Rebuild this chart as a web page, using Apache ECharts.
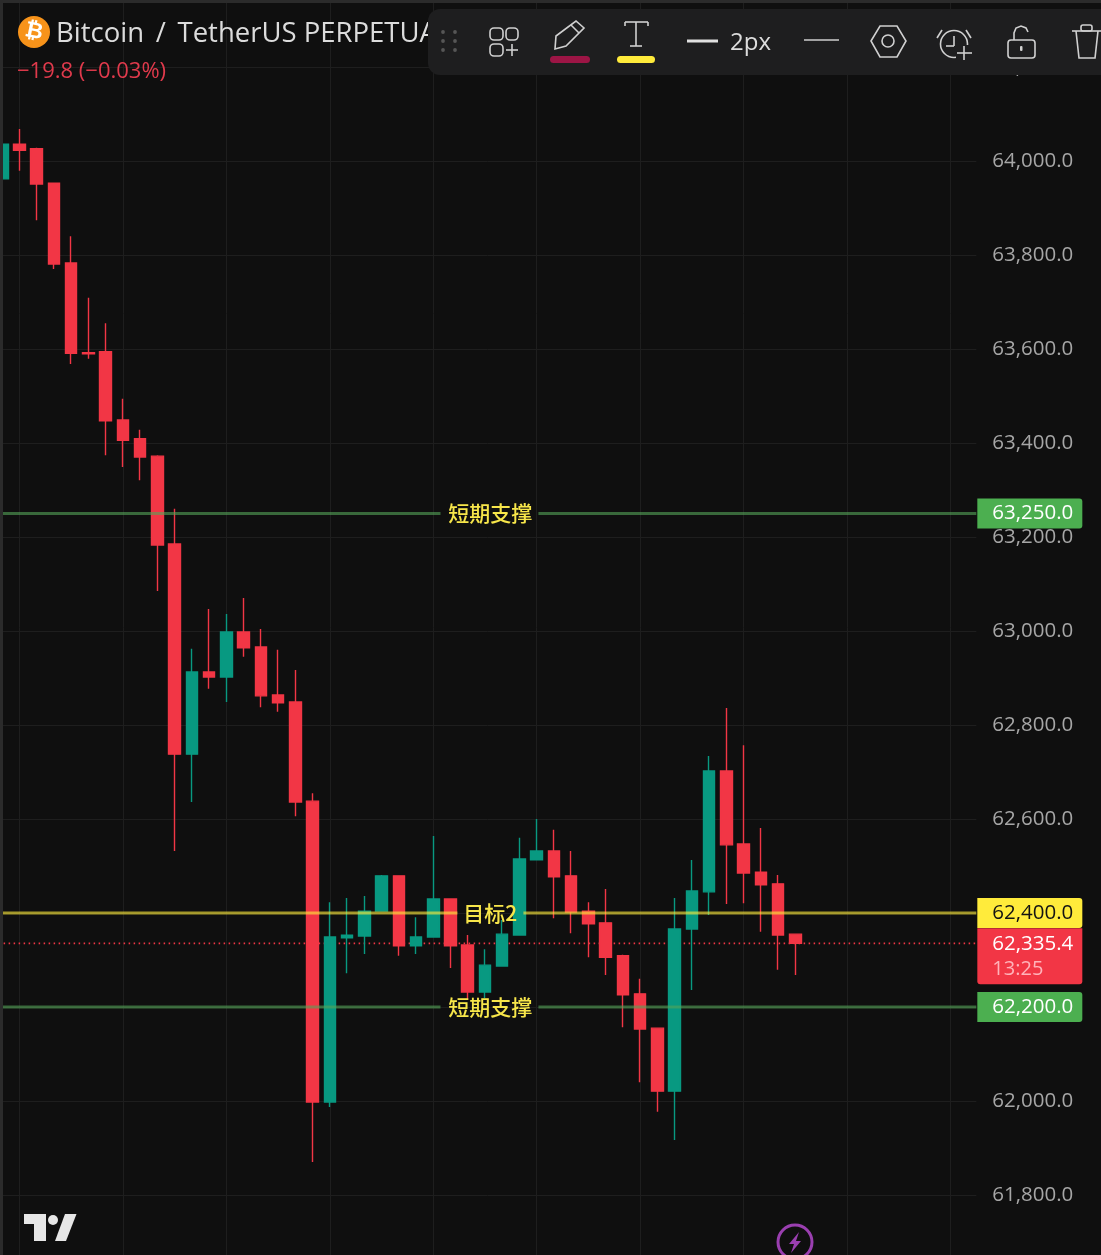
<!DOCTYPE html>
<html>
<head>
<meta charset="utf-8">
<style>html,body{margin:0;padding:0;background:#0f0f0f;overflow:hidden}#c{width:1101px;height:1255px}</style>
<script src="https://cdn.jsdelivr.net/npm/echarts@6/dist/echarts.min.js"></script>
</head>
<body>
<div id="c"></div>
<script>
// candle values, oldest first
const opens  = [63962,64036,64026,63953,63783,63592,63594,63449,63409,63372,63185,62738,62913,62902,62998,62966,62864,62849,62638,61998,62347,62351,62404,62479,62330,62349,62430,62332,62232,62287,62353,62513,62532,62479,62404,62379,62309,62228,62155,62021,62366,62445,62702,62547,62487,62462,62355];
const closes = [64036,64023,63951,63781,63591,63590,63447,63406,63370,63183,62738,62913,62902,62998,62964,62862,62847,62636,61998,62349,62353,62404,62479,62330,62349,62430,62330,62232,62289,62355,62515,62532,62477,62402,62377,62306,62226,62153,62021,62366,62447,62702,62545,62485,62460,62353,62335.4];
const lows   = [63962,63979,63874,63770,63568,63579,63374,63349,63321,63085,62532,62636,62877,62849,62945,62838,62828,62606,61870,61987,62272,62313,62404,62309,62313,62349,62283,62215,62219,62287,62353,62513,62389,62357,62306,62268,62157,62040,61977,61917,62236,62396,62419,62421,62360,62279,62268];
const highs  = [64036,64068,64028,63953,63840,63709,63655,63494,63428,63374,63260,62962,63047,63036,63070,63004,62960,62917,62655,62423,62432,62436,62481,62479,62391,62564,62430,62353,62323,62385,62560,62600,62577,62532,62423,62451,62311,62260,62155,62432,62513,62734,62836,62757,62581,62481,62355];

const emptyBars = 10;            // room to the right of the last candle
const yTicks = {min: 61600, max: 64400, step: 200};
const gridBars = [1,7,13,19,25,31,37,43,49,55];
const supportLevels = [63250, 62200];
const supportGap = [25.42, 31.1];
const targetLevels = [62400];
const targetGap = [26.4, 30.23];
const lastPrice = 62335.4;
const lastCountdown = '13:25';
const supportText = '短期支撑';
const targetText = '目标2';
const supportLabelBar = 28.3;
const titleText = 'Bitcoin \u2009/\u2009 TetherUS PERPETUAL';
const changeText = '−19.8 (−0.03%)';

const categories = [];
for (let i = 0; i < opens.length + emptyBars; i++) categories.push(String(i));
const xEnd = categories.length - 0.5, xStart = -0.5;
const candles = opens.map((o, i) => [o, closes[i], lows[i], highs[i]]);

const UP = '#089981', DOWN = '#f23645', BG = '#0f0f0f', GRID = '#1e1e1e';
const AXIS_TEXT = '#a6a6a6', FONT = '"Open Sans","Noto Sans",sans-serif', CJK = '"Noto Sans CJK SC",sans-serif';
const GREEN_LINE = 'rgba(85,165,88,0.6)', YELLOW_LINE = 'rgba(255,235,59,0.62)', YELLOW = '#f7e64a';

const fmt = v => v.toLocaleString('en-US', {minimumFractionDigits: 1, maximumFractionDigits: 1});

function levelLine(level, gap, color) {
  return {
    type: 'line', xAxisIndex: 1, yAxisIndex: 0, z: 3, silent: true, symbol: 'none', animation: false,
    lineStyle: {color: color, width: 3},
    data: [[xStart, level], [gap[0], level], [null, null], [gap[1], level], [xEnd, level]]
  };
}
function textMark(x, level, text) {
  return {
    type: 'scatter', xAxisIndex: 1, yAxisIndex: 0, z: 4, silent: true, symbolSize: 0, animation: false,
    itemStyle: {opacity: 1},
    data: [[x, level]],
    label: {show: true, position: 'inside', formatter: text, color: YELLOW, fontSize: 21, fontFamily: CJK, fontWeight: 500}
  };
}
function tag(level, bg, color) {
  return {
    type: 'scatter', xAxisIndex: 1, yAxisIndex: 0, z: 5, silent: true, clip: false, symbolSize: 0, animation: false,
    itemStyle: {opacity: 1},
    data: [[xEnd, level]],
    label: {show: true, position: 'right', distance: 1, formatter: fmt(level), color: color, backgroundColor: bg,
      fontSize: 20.5, fontFamily: FONT, width: 90, height: 30, lineHeight: 30, padding: [0, 0, 0, 15], borderRadius: [0, 3, 3, 0]}
  };
}

const series = [
  {type: 'line', xAxisIndex: 0, yAxisIndex: 0, z: 1, silent: true, symbol: 'none', animation: false, data: [],
    markLine: {z: 0, silent: true, symbol: 'none', animation: false, label: {show: false},
      lineStyle: {color: GRID, width: 1, type: 'solid'},
      data: gridBars.map(b => ({xAxis: String(b)}))}},
  {type: 'line', xAxisIndex: 1, yAxisIndex: 0, z: 1, silent: true, symbol: 'none', animation: false,
    lineStyle: {color: '#f23645', width: 1.6, type: [1.5, 3.5]},
    data: [[xStart, lastPrice], [xEnd, lastPrice]]},
  {type: 'candlestick', xAxisIndex: 0, yAxisIndex: 0, z: 2, silent: true, animation: false, barWidth: 12,
    itemStyle: {color: UP, color0: DOWN, borderColor: UP, borderColor0: DOWN, borderWidth: 1.4},
    data: candles},
  ...supportLevels.map(l => levelLine(l, supportGap, GREEN_LINE)),
  ...targetLevels.map(l => levelLine(l, targetGap, YELLOW_LINE)),
  ...supportLevels.map(l => textMark(supportLabelBar, l, supportText)),
  ...targetLevels.map(l => textMark(supportLabelBar, l, targetText)),
  ...supportLevels.map(l => tag(l, '#4caf50', '#ffffff')),
  ...targetLevels.map(l => tag(l, '#ffeb3b', '#131313')),
  {type: 'scatter', xAxisIndex: 1, yAxisIndex: 0, z: 5, silent: true, clip: false, symbolSize: 0, animation: false,
    itemStyle: {opacity: 1},
    data: [[xEnd, lastPrice]],
    label: {show: true, position: 'right', distance: 1, offset: [0, 13],
      formatter: '{a|' + fmt(lastPrice) + '}\n{b|' + lastCountdown + '}',
      backgroundColor: DOWN, borderRadius: [0, 0, 3, 3], padding: [3, 0, 3, 15], width: 90,
      rich: {a: {color: '#fff', fontSize: 20.5, fontFamily: FONT, lineHeight: 26, width: 90},
             b: {color: '#ffb3ba', fontSize: 20, fontFamily: FONT, lineHeight: 24, width: 90}}}}
];

// decoration: strips, toolbar, logos
const IC = '#d0d0d0', TB = '#1e1e1f';
const ln = (x1,y1,x2,y2,w,c) => ({type:'line',z:101,silent:true,shape:{x1,y1,x2,y2},style:{stroke:c||IC,lineWidth:w||1.6,fill:null}});
const rr = (x,y,width,height,r,stroke) => ({type:'rect',z:101,silent:true,shape:{x,y,width,height,r},style:{stroke:stroke||IC,lineWidth:1.6,fill:null}});
const fl = (x,y,width,height,r,fill,z) => ({type:'rect',z:z||101,silent:true,shape:{x,y,width,height,r},style:{fill}});
const ci = (cx,cy,r,stroke,w) => ({type:'circle',z:101,silent:true,shape:{cx,cy,r},style:{stroke:stroke||IC,lineWidth:w||1.6,fill:null}});
const dot = (cx,cy) => ({type:'circle',z:101,silent:true,shape:{cx,cy,r:1.9},style:{fill:'#565656'}});
const pl = (points,c,w) => ({type:'polyline',z:101,silent:true,shape:{points},style:{stroke:c||IC,lineWidth:w||1.6,fill:null}});
const pg = (points,fill,stroke) => ({type:'polygon',z:101,silent:true,shape:{points},style:{fill:fill||null,stroke:stroke||null,lineWidth:1.6}});
const tx = (x,y,text,size,fill,extra,el) => Object.assign({type:'text',z:102,silent:true,x,y,style:Object.assign({text,fontSize:size,fill,fontFamily:FONT,verticalAlign:'middle'},extra||{})},el||{});

const decoration = [
  fl(0,0,1101,3,0,'#2b2b2b',90), fl(0,0,3,1255,0,'#2b2b2b',90),
  fl(428,9,700,66,12,TB,100),
  dot(443,32),dot(455,32),dot(443,41),dot(455,41),dot(443,50),dot(455,50),
  rr(490,28,13,12,4),rr(506,28,12,12,4),rr(490,44,13,12,4),ln(506,50,518,50),ln(512,44,512,56),
  pg([[556,36],[576,21],[584,28],[566,46],[555,49]],null,IC),ln(571,25,579,33),
  fl(550,56,40,7,3.5,'#9c1545'),
  ln(625,22,648,22),ln(625,22,625,26),ln(648,22,648,26),ln(636,22,636,46),ln(630,46,642,46),
  fl(617,56,38,7,3.5,'#ffeb3b'),
  ln(687,41,718,41,3,'#e0e0e0'),
  tx(730,43,'2px',24,'#dcdcdc'),
  ln(804,40,839,40,1.6,'#cfcfcf'),
  pg([[871,41],[880,26],[897,26],[906,41],[897,57],[880,57]],null,IC),ci(888,41,6),
  ci(954,44,13.5),ln(954,36,954,46),ln(954,46,946,46),ln(937,38,942,30),ln(966,30,971,38),
  fl(956,45,17,16,0,TB),ln(964,46,964,60),ln(957,53,972,53),
  rr(1008,40,27,18,3),pl([[1014,40],[1014,33],[1016,28],[1021,26],[1026,28],[1028,32]]),fl(1020,46,2.5,5,1,IC),
  ln(1072,31,1101,31),rr(1081,25,11,6,2),pl([[1076,31],[1079,58],[1095,58],[1098,31]]),
  {type:'circle',z:101,silent:true,shape:{cx:34,cy:32,r:16},style:{fill:'#f7931a'}},
  tx(34,32,'₿',22,'#ffffff',{fontFamily:'"DejaVu Sans",sans-serif',fontWeight:'bold',align:'center'},{rotation:-0.2}),
  pg([[24,1214],[46,1214],[46,1241],[34,1241],[34,1224],[24,1224]],'#e6e6e6'),
  {type:'circle',z:101,silent:true,shape:{cx:53,cy:1220,r:5},style:{fill:'#e6e6e6'}},
  pg([[65,1214],[76.5,1214],[66,1241],[55,1241]],'#e6e6e6'),
  ci(795,1242,17,'#9a3fb0',3),
  pg([[799,1232],[789,1244],[794,1244],[791,1253],[801,1241],[796,1241]],'#9a3fb0')
];

const chart = echarts.init(document.getElementById('c'), null, {renderer: 'canvas'});
chart.setOption({
  animation: false,
  backgroundColor: BG,
  tooltip: {show: false},
  legend: {show: false},
  title: [
    {text: titleText, left: 56, top: 20, padding: 0, z: 6, textStyle: {color: '#dcdcdc', fontSize: 27.5, fontWeight: 'normal', fontFamily: FONT}},
    {text: changeText, left: 17, top: 61, padding: 0, z: 6, textStyle: {color: '#e03a4c', fontSize: 22, fontWeight: 'normal', fontFamily: FONT}}
  ],
  grid: {left: -6.36, right: 124.68, top: -27, bottom: -34, containLabel: false, outerBoundsMode: 'none', show: false},
  xAxis: [
    {type: 'category', data: categories, boundaryGap: true, axisLine: {show: false}, axisTick: {show: false}, axisLabel: {show: false}, splitLine: {show: false}},
    {type: 'value', min: xStart, max: xEnd, show: false, splitLine: {show: false}}
  ],
  yAxis: [{
    type: 'value', position: 'right', min: yTicks.min, max: yTicks.max, interval: yTicks.step, scale: true,
    axisLine: {show: false}, axisTick: {show: false},
    splitLine: {show: true, lineStyle: {color: GRID, width: 1}},
    axisLabel: {show: true, margin: 16, color: AXIS_TEXT, fontSize: 20.5, fontFamily: FONT, formatter: fmt}
  }],
  series: series,
  graphic: {elements: decoration}
});
</script>
</body>
</html>
